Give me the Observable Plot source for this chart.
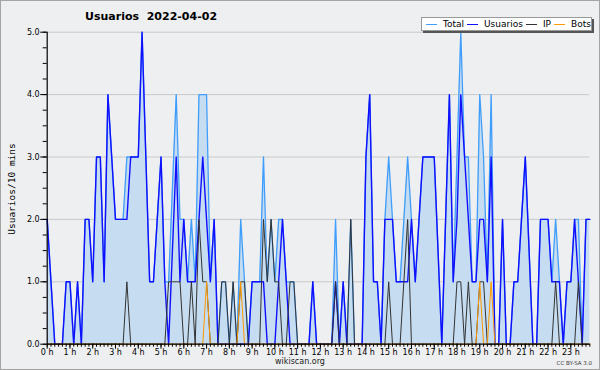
<!DOCTYPE html>
<html>
<head>
<meta charset="utf-8">
<script src="https://cdn.jsdelivr.net/npm/d3@7"></script>
<script src="https://cdn.jsdelivr.net/npm/@observablehq/plot@0.6"></script>
<style>
  html, body { margin: 0; padding: 0; background: #fff; }
  #wrap { position: relative; width: 600px; height: 370px; background: #eeeff0; overflow: hidden; font-family: "DejaVu Sans", sans-serif; }
  #wrap svg { position: absolute; left: 0; top: 0; }
  #frame { position: absolute; left: 0; top: 0; width: 600px; height: 370px; box-sizing: border-box; border: 1px solid #a4a4a4; pointer-events: none; }
  #title { position: absolute; left: 85px; top: 10px; font: bold 11px "DejaVu Sans", sans-serif; color: #000; white-space: pre; }
  #ylab { position: absolute; left: 11px; top: 189px; transform: translate(-50%, -50%) rotate(-90deg); font: 9.5px "DejaVu Sans Mono", monospace; color: #000; white-space: nowrap; }
  #site { position: absolute; left: 0; width: 600px; top: 357px; text-align: center; font: 8px "DejaVu Sans", sans-serif; color: #222; }
  #lic { position: absolute; right: 8px; top: 360px; font: 5.5px "DejaVu Sans", sans-serif; color: #333; }
  #legend { position: absolute; left: 421px; top: 17px; width: 171px; height: 14px; background: #fff; border: 1px solid #999; box-shadow: 2px 2px 0 #555; display: flex; align-items: center; font: 9px "DejaVu Sans", sans-serif; color: #000; box-sizing: border-box; padding-left: 4px; }
  .sw { display: inline-block; width: 11px; height: 0; border-top: 1.3px solid; margin-right: 6px; }
  .it { display: inline-flex; align-items: center; margin-right: 3px; }
</style>
</head>
<body>
<div id="wrap">
  <div id="title">Usuarios  2022-04-02</div>
  <div id="ylab">Usuarios/10 mins</div>
  <div id="site">wikiscan.org</div>
  <div id="lic">CC BY-SA 3.0</div>
  <div id="frame"></div>
</div>
<script>
// 10-minute slots of 2022-04-02 (144 slots)
const total = [
  2,1,0,0,0,1,1,0,1,0,
  2,2,1,3,3,1,4,3,2,2,
  2,3,3,3,3,5,3,1,1,2,
  3,1,1,2.5,4,2,2,1,2,1,
  4,4,4,1,2,0,1,1,0,1,
  0,2,1,0,1,1,1,3,1,2,
  1,2,2,1,1,1,0,0,0,0,
  1,0,0,0,0,0,2,0,1,0,
  2,0,0,0,3,4,1,1,0,2,
  3,2,1,1,2,3,2,1,2,3,
  3,3,3,1.5,0,2,4,1,3,5,
  3,3,1,1,4,3,1,4,0,0,
  2,0,0,1,1,2,3,1.5,0,0,
  2,2,2,1,2,1,0,1,1,2,
  2,0,2,2
];
const usuarios = [
  2,1,0,0,0,1,1,0,1,0,
  2,2,1,3,3,1,4,3,2,2,
  2,2,3,3,3,5,3,1,1,2,
  3,1,0,1.5,3,1,2,1,1,1,
  2,3,2,1,2,0,0,0,0,0,
  0,0,0,0,1,1,1,1,0,0,
  0,1,2,1,0,0,0,0,0,0,
  1,0,0,0,0,0,1,0,1,0,
  0,0,0,0,3,4,1,1,0,2,
  2,2,1,1,1,1,2,1,2,3,
  3,3,3,1.5,0,2,4,1,2,4,
  3,2,1,1,2,2,1,3,0,0,
  2,0,0,1,1,2,3,1.5,0,0,
  2,2,2,1,1,1,0,1,1,2,
  1,0,2,2
];
const ip = [
  0,0,0,0,0,0,0,0,0,0,
  0,0,0,0,0,0,0,0,0,0,
  0,1,0,0,0,0,0,0,0,0,
  0,0,1,1,1,1,0,0,1,0,
  2,1,1,0,0,0,1,1,0,1,
  0,1,1,0,0,0,0,2,1,2,
  1,1,0,0,1,1,0,0,0,0,
  0,0,0,0,0,0,1,0,0,0,
  2,0,0,0,0,0,0,0,0,0,
  1,0,0,0,1,2,0,0,0,0,
  0,0,0,0,0,0,0,0,1,1,
  0,1,0,0,1,1,0,0,0,0,
  0,0,0,0,0,0,0,0,0,0,
  0,0,0,0,1,0,0,0,0,0,
  1,0,0,0
];
const bots = [
  0,0,0,0,0,0,0,0,0,0,
  0,0,0,0,0,0,0,0,0,0,
  0,0,0,0,0,0,0,0,0,0,
  0,0,0,0,0,0,0,0,0,0,
  0,0,1,0,0,0,0,0,0,0,
  0,1,0,0,0,0,0,0,0,0,
  0,0,0,0,0,0,0,0,0,0,
  0,0,0,0,0,0,0,0,0,0,
  0,0,0,0,0,0,0,0,0,0,
  0,0,0,0,0,0,0,0,0,0,
  0,0,0,0,0,0,0,0,0,0,
  0,0,0,0,1,0,0,1,0,0,
  0,0,0,0,0,0,0,0,0,0,
  0,0,0,0,0,0,0,0,0,0,
  0,0,0,0
];
const hourLabels = d3.range(24).map(h => `${h} h`);
const yTicks = [0, 1, 2, 3, 4, 5];
const seriesNames = ["Total", "Usuarios", "IP", "Bots"];
const seriesColors = ["#3f9dfb", "#1010ff", "#333333", "#ff9a00"];

const rows = total.map((t, i) => ({i, total: t, usuarios: usuarios[i], ip: ip[i], bots: bots[i]}));
const hourTicks = hourLabels.map((_, h) => h * 6);
const minorX = rows.map(d => d.i);
const minorY = d3.range(0, 5.001, 0.25);

const chart = Plot.plot({
  width: 600,
  height: 370,
  marginLeft: 46.7,
  marginRight: 10.7,
  marginTop: 31.7,
  marginBottom: 26.3,
  style: {background: "transparent", fontFamily: "DejaVu Sans, sans-serif", fontSize: "8px", color: "#000"},
  x: {domain: [0, 143], axis: null, label: null},
  y: {domain: [0, 5], axis: null, label: null},
  marks: [
    Plot.ruleY([1, 2, 3, 4, 5], {stroke: "#c9c9c9", strokeWidth: 1}),
    Plot.areaY(rows, {x: "i", y: "total", fill: "#c6dcf0"}),
    Plot.lineY(rows, {x: "i", y: "total", stroke: seriesColors[0], strokeWidth: 1.3}),
    Plot.lineY(rows, {x: "i", y: "usuarios", stroke: seriesColors[1], strokeWidth: 1.4}),
    Plot.lineY(rows, {x: "i", y: "ip", stroke: seriesColors[2], strokeWidth: 1}),
    Plot.lineY(rows, {x: "i", y: "bots", stroke: seriesColors[3], strokeWidth: 1}),
    Plot.axisY(minorY, {tickSize: 4, tickFormat: () => "", stroke: "#000", label: null}),
    Plot.axisY(yTicks, {tickSize: 6.5, tickPadding: 1, tickFormat: d => d.toFixed(1), fontSize: 8, stroke: "#000", label: null}),
    Plot.axisX(minorX, {tickSize: 3, tickFormat: () => "", stroke: "#000", label: null}),
    Plot.axisX(hourTicks, {tickSize: 5, tickPadding: 0, tickFormat: d => hourLabels[d / 6], fontSize: 8, stroke: "#000", label: null}),
    Plot.ruleX([0], {stroke: "#000", strokeWidth: 1.2}),
    Plot.ruleY([0], {stroke: "#000", strokeWidth: 1.2})
  ]
});
const wrap = document.getElementById("wrap");
wrap.insertBefore(chart, wrap.firstChild);

// legend
const lg = document.createElement("div");
lg.id = "legend";
seriesNames.forEach((name, k) => {
  const it = document.createElement("span");
  it.className = "it";
  const sw = document.createElement("span");
  sw.className = "sw";
  sw.style.borderTopColor = seriesColors[k];
  const tx = document.createElement("span");
  tx.textContent = name;
  it.appendChild(sw);
  it.appendChild(tx);
  lg.appendChild(it);
});
wrap.insertBefore(lg, document.getElementById("frame"));
</script>
</body>
</html>
